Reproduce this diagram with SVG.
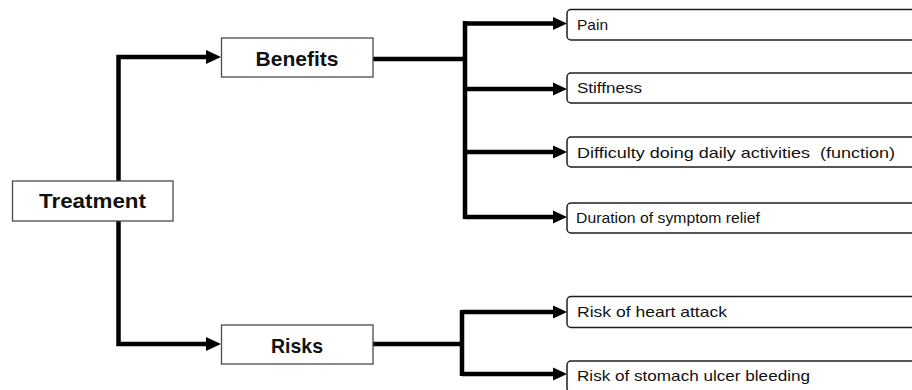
<svg xmlns="http://www.w3.org/2000/svg" width="912" height="390" viewBox="0 0 912 390">
<style>
  .main { fill: #ffffff; stroke: #4a4a4a; stroke-width: 1.3; }
  .leaf { fill: #ffffff; stroke: #1e1e1e; stroke-width: 1.5; }
  .tb { font-family: "Liberation Sans", Arial, sans-serif; font-weight: bold; font-size: 21px; fill: #111; text-anchor: middle; }
  .tl { font-family: "Liberation Sans", Arial, sans-serif; font-size: 15px; fill: #111; white-space: pre; }
  .c { fill: none; stroke: #000; stroke-width: 4.5; stroke-linejoin: miter; }
</style>
<defs>
  <marker id="ah" markerUnits="userSpaceOnUse" markerWidth="16" markerHeight="16" refX="0" refY="7" orient="auto" viewBox="0 0 16 14">
    <path d="M0,0 L15,7 L0,14 z" fill="#000"/>
  </marker>
  <marker id="as" markerUnits="userSpaceOnUse" markerWidth="16" markerHeight="14" refX="0" refY="6.5" orient="auto" viewBox="0 0 16 13">
    <path d="M0,0 L14,6.5 L0,13 z" fill="#000"/>
  </marker>
</defs>

<g id="connectors">
  <path class="c" d="M118.5,181 V57 H206" marker-end="url(#ah)"/>
  <path class="c" d="M118.5,221 V344 H206" marker-end="url(#ah)"/>
  <path class="c" d="M373,59 H465"/>
  <path class="c" d="M465,21 V219"/>
  <path class="c" d="M465,23.5 H553" marker-end="url(#as)"/>
  <path class="c" d="M465,89 H553" marker-end="url(#as)"/>
  <path class="c" d="M465,152 H553" marker-end="url(#as)"/>
  <path class="c" d="M465,217 H553" marker-end="url(#as)"/>
  <path class="c" d="M373,344 H462"/>
  <path class="c" d="M462,310 V376"/>
  <path class="c" d="M462,312 H553" marker-end="url(#as)"/>
  <path class="c" d="M462,374 H553" marker-end="url(#as)"/>
</g>

<g id="treatment">
  <rect class="main" x="12.5" y="181" width="160.5" height="40"/>
  <text class="tb" x="92.5" y="208" textLength="107" lengthAdjust="spacingAndGlyphs">Treatment</text>
</g>
<g id="benefits">
  <rect class="main" x="221.5" y="38" width="151.5" height="39"/>
  <text class="tb" x="297" y="66" textLength="83" lengthAdjust="spacingAndGlyphs">Benefits</text>
</g>
<g id="risks">
  <rect class="main" x="221.5" y="325" width="151.5" height="39"/>
  <text class="tb" x="297" y="352.5" textLength="52" lengthAdjust="spacingAndGlyphs">Risks</text>
</g>

<g id="pain">
  <rect class="leaf" x="567" y="9.5" width="360" height="30.5" rx="4"/>
  <text class="tl" x="577" y="30" textLength="31" lengthAdjust="spacingAndGlyphs">Pain</text>
</g>
<g id="stiffness">
  <rect class="leaf" x="567" y="73" width="360" height="30" rx="4"/>
  <text class="tl" x="577" y="93" textLength="65" lengthAdjust="spacingAndGlyphs">Stiffness</text>
</g>
<g id="difficulty">
  <rect class="leaf" x="567" y="137" width="360" height="30" rx="4"/>
  <text class="tl" x="577" y="157.5" textLength="318" lengthAdjust="spacingAndGlyphs">Difficulty doing daily activities  (function)</text>
</g>
<g id="duration">
  <rect class="leaf" x="567" y="203" width="360" height="30" rx="4"/>
  <text class="tl" x="576" y="223" textLength="184" lengthAdjust="spacingAndGlyphs">Duration of symptom relief</text>
</g>
<g id="heart">
  <rect class="leaf" x="567" y="296.5" width="360" height="31" rx="4"/>
  <text class="tl" x="577" y="317" textLength="150" lengthAdjust="spacingAndGlyphs">Risk of heart attack</text>
</g>
<g id="stomach">
  <rect class="leaf" x="567" y="361" width="360" height="31" rx="4"/>
  <text class="tl" x="577" y="381" textLength="233" lengthAdjust="spacingAndGlyphs">Risk of stomach ulcer bleeding</text>
</g>
</svg>
